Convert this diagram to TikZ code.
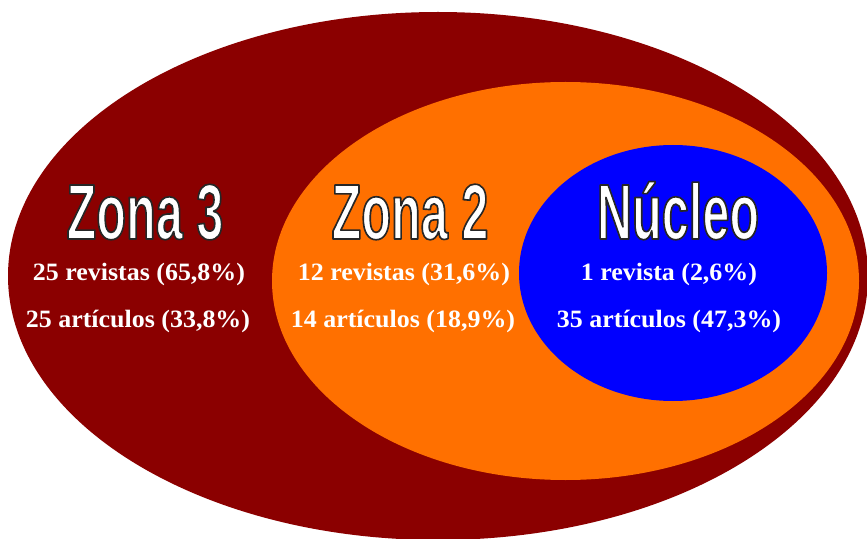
\documentclass[tikz,border=0pt]{standalone}
\usepackage{fontspec}
\usepackage{xcolor}
\usepackage{tikz}
\setmainfont{Liberation Serif}[FakeStretch=1.04]
\newfontfamily\titlefont{Liberation Sans}[FakeStretch=0.62]
\definecolor{zonared}{RGB}{139,0,0}
\definecolor{zonaorange}{RGB}{255,112,0}
\definecolor{nucleoblue}{RGB}{0,0,255}
% white letters with a thin black edge (fill, then stroke)
\newcommand{\orla}[1]{\special{pdf:literal 0.15 G 2 Tr 1.4 w 1 j}#1\special{pdf:literal 0 Tr}}
\tikzset{
  title/.style={anchor=base, text=white, inner sep=0pt, font=\titlefont\bfseries\fontsize{67}{67}\selectfont},
  datos/.style={anchor=base, text=white, inner sep=0pt, font=\bfseries\fontsize{21.3}{24}\selectfont}
}

\begin{document}
\begin{tikzpicture}[x=0.03cm, y=-0.03cm]
			\useasboundingbox (0,0) rectangle (867,539);
			\fill[zonared] (438,276) ellipse [x radius=430, y radius=264];
			\fill[zonaorange] (565.5,281) ellipse [x radius=293.5, y radius=199];
			\fill[nucleoblue] (673,273) ellipse [x radius=154, y radius=128];
			\node[title] (zona3) at (145,239) {\orla{Zona 3}};
			\node[title] (zona2) at (410,239) {\orla{Zona 2}};
			\node[title] (nucleo) at (678,239) {\orla{Núcleo}};
			\node[datos] (rev3) at (139,281) {25 revistas (65,8\%)};
			\node[datos] (art3) at (138,327) {25 artículos (33,8\%)};
			\node[datos] (rev2) at (404,281) {12 revistas (31,6\%)};
			\node[datos] (art2) at (403,327) {14 artículos (18,9\%)};
			\node[datos] (rev1) at (669,281) {1 revista (2,6\%)};
			\node[datos] (art1) at (669,327) {35 artículos (47,3\%)};
		\end{tikzpicture}
\end{document}
